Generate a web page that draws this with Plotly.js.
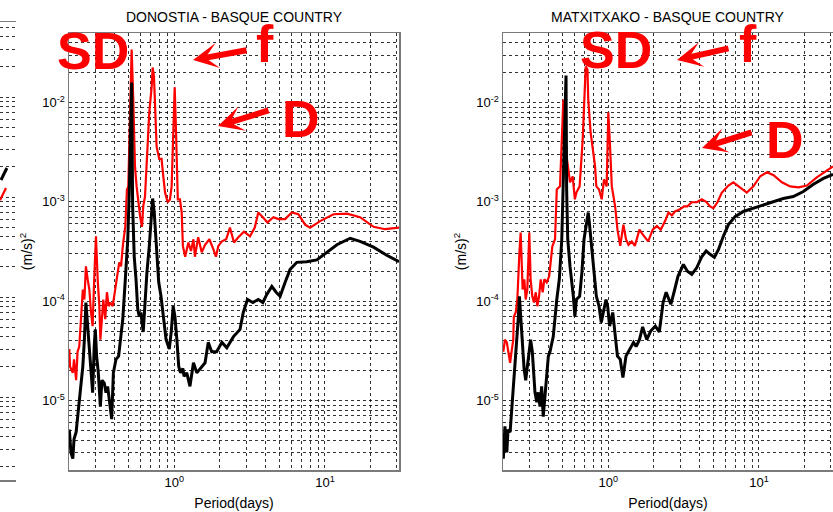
<!DOCTYPE html>
<html>
<head>
<meta charset="utf-8">
<script src="https://cdn.plot.ly/plotly-3.0.1.min.js"></script>
<style>html,body{margin:0;padding:0;background:#fff;}#chart{width:833px;height:512px;}</style>
</head>
<body>
<div id="chart"></div>
<script>
// ---------------- DATA (periods in days, PSD in (m/s)^2) ----------------
const panelTitles = ['DONOSTIA - BASQUE COUNTRY', 'MATXITXAKO - BASQUE COUNTRY'];
const xTitle = 'Period(days)';
const yTitle = '(m/s)<sup>2</sup>';

// DONOSTIA – red spectrum
const donostiaRedPeriod = [0.201,0.203,0.212,0.216,0.223,0.228,0.234,0.240,0.247,0.253,0.259,0.266,0.273,0.280,0.287,0.294,0.302,0.310,0.318,0.323,0.331,0.338,0.348,0.357,0.367,0.376,0.390,0.400,0.410,0.421,0.431,0.443,0.455,0.473,0.485,0.495,0.508,0.521,0.534,0.548,0.562,0.577,0.593,0.610,0.622,0.639,0.655,0.682,0.708,0.718,0.733,0.744,0.763,0.794,0.823,0.845,0.868,0.904,0.936,0.960,0.983,1.006,1.027,1.055,1.09,1.12,1.14,1.18,1.24,1.29,1.34,1.37,1.44,1.52,1.60,1.71,1.82,1.89,1.96,2.07,2.21,2.34,2.49,2.66,2.90,3.18,3.42,3.61,3.87,4.15,4.55,4.91,5.44,6.02,6.66,7.38,7.97,9.28,11.4,14.0,17.1,21.0,25.1,31];
const donostiaRedPSD = [3.3e-5,2.2e-5,1.9e-5,2.6e-5,1.6e-5,3.1e-5,3.5e-5,7.0e-5,1.31e-4,1.04e-4,2.24e-4,1.66e-4,1.31e-4,7.7e-5,5.6e-5,1.66e-4,4.5e-4,1.66e-4,8.9e-5,4.1e-5,7.7e-5,1.04e-4,6.6e-5,1.23e-4,8.9e-5,9.7e-5,8.9e-5,1.12e-4,1.55e-4,1.95e-4,2.46e-4,2.24e-4,3.56e-4,5.7e-4,1.33e-3,1.43e-3,9.1e-3,3.4e-2,1.07e-2,2.3e-3,1.43e-3,9.9e-4,7.1e-4,5.6e-4,9.0e-4,1.13e-3,2.3e-3,7.9e-3,1.45e-2,2.25e-2,1.83e-2,8.5e-3,3.6e-3,2.7e-3,2.7e-3,1.8e-3,1.24e-3,9.9e-4,1.06e-3,1.43e-3,5.0e-3,1.42e-2,5.0e-3,1.06e-3,1.06e-3,7.8e-4,3.6e-4,2.8e-4,3.9e-4,3.2e-4,4.2e-4,2.8e-4,4.4e-4,3.1e-4,3.7e-4,4.2e-4,3.3e-4,2.8e-4,3.6e-4,4.0e-4,4.2e-4,5.5e-4,3.9e-4,4.4e-4,5.0e-4,4.5e-4,5.5e-4,7.8e-4,7.0e-4,6.2e-4,7.0e-4,6.7e-4,6.7e-4,7.8e-4,7.5e-4,5.9e-4,5.5e-4,6.4e-4,7.5e-4,7.6e-4,7.0e-4,5.6e-4,5.3e-4,5.5e-4];

// DONOSTIA – black spectrum
const donostiaBlackPeriod = [0.201,0.206,0.212,0.216,0.223,0.228,0.234,0.240,0.247,0.253,0.259,0.266,0.273,0.280,0.287,0.294,0.299,0.305,0.313,0.323,0.331,0.343,0.352,0.361,0.370,0.384,0.394,0.410,0.427,0.438,0.455,0.473,0.491,0.503,0.521,0.529,0.542,0.557,0.572,0.586,0.600,0.622,0.639,0.658,0.682,0.700,0.718,0.736,0.756,0.788,0.816,0.845,0.882,0.926,0.954,0.983,1.01,1.04,1.07,1.10,1.14,1.16,1.21,1.27,1.34,1.41,1.52,1.60,1.68,1.77,1.91,2.07,2.23,2.47,2.73,2.87,3.06,3.32,3.61,3.87,4.11,4.44,4.74,5.04,5.44,5.87,6.5,7.57,8.83,10.3,12.0,14.7,17.1,21.0,25.7,31];
const donostiaBlackPSD = [5.1e-6,3.0e-6,2.6e-6,4.1e-6,4.8e-6,6.5e-6,1.03e-5,1.39e-5,2.2e-5,4.1e-5,9.7e-5,5.6e-5,3.1e-5,1.9e-5,1.2e-5,3.5e-5,5.2e-5,2.8e-5,1.9e-5,8.7e-6,1.6e-5,1.5e-5,1.2e-5,1.39e-5,1.03e-5,6.5e-6,1.9e-5,2.6e-5,2.8e-5,4.1e-5,6.6e-5,1.66e-4,4.2e-4,1.33e-3,1.59e-2,9.0e-4,2.8e-4,1.66e-4,8.3e-5,7.0e-5,7.7e-5,4.9e-5,1.04e-4,1.95e-4,3.56e-4,5.7e-4,1.08e-3,7.8e-4,4.5e-4,1.55e-4,1.12e-4,6.6e-5,4.1e-5,3.3e-5,4.9e-5,8.9e-5,7.0e-5,4.1e-5,2.2e-5,1.9e-5,2.1e-5,1.75e-5,1.9e-5,1.39e-5,2.4e-5,1.9e-5,2.2e-5,2.4e-5,3.85e-5,3.1e-5,3.1e-5,3.85e-5,3.4e-5,4.4e-5,5.2e-5,7.7e-5,1.04e-4,9.7e-5,1.04e-4,9.7e-5,1.17e-4,1.41e-4,1.23e-4,1.12e-4,1.55e-4,2.09e-4,2.46e-4,2.5e-4,2.6e-4,3.1e-4,3.7e-4,4.3e-4,4.0e-4,3.5e-4,2.9e-4,2.5e-4];

// MATXITXAKO – red spectrum
const matxitxakoRedPeriod = [0.201,0.206,0.212,0.216,0.223,0.228,0.234,0.236,0.243,0.249,0.253,0.257,0.262,0.266,0.270,0.277,0.283,0.290,0.299,0.305,0.313,0.321,0.330,0.338,0.347,0.356,0.367,0.376,0.390,0.405,0.414,0.425,0.443,0.455,0.478,0.491,0.503,0.529,0.557,0.580,0.600,0.614,0.645,0.676,0.690,0.708,0.727,0.736,0.763,0.788,0.816,0.833,0.868,0.904,0.936,0.975,1.0,1.027,1.055,1.11,1.15,1.20,1.26,1.31,1.36,1.43,1.50,1.61,1.69,1.84,1.97,2.10,2.23,2.38,2.51,2.64,2.77,2.99,3.18,3.35,3.58,3.87,4.17,4.46,4.74,4.98,5.30,5.67,6.27,6.76,7.5,8.3,9.18,10.2,11.3,12.5,14.2,16.1,18.3,20.8,24.2,28.2,31];
const matxitxakoRedPSD = [3.1e-5,4.1e-5,3.85e-5,3.1e-5,2.4e-5,3.1e-5,4.1e-5,7.0e-5,7.7e-5,1.04e-4,1.95e-4,3.1e-4,4.9e-4,1.95e-4,1.31e-4,1.66e-4,1.04e-4,1.31e-4,4.9e-4,1.66e-4,1.12e-4,9.7e-5,1.23e-4,8.9e-5,1.12e-4,1.66e-4,1.23e-4,1.66e-4,1.55e-4,1.78e-4,2.63e-4,3.56e-4,4.2e-4,1.33e-3,1.43e-3,4.2e-3,1.07e-2,2.86e-3,1.57e-3,1.8e-3,1.06e-3,1.24e-3,1.43e-3,4.2e-3,8.5e-3,2.3e-2,2.15e-2,1.07e-2,5.0e-3,3.4e-3,2.3e-3,1.43e-3,1.33e-3,1.06e-3,1.68e-3,1.43e-3,7.9e-3,3.6e-3,1.43e-3,9.0e-4,5.25e-4,3.6e-4,5.9e-4,4.2e-4,3.7e-4,4.0e-4,3.6e-4,5.25e-4,4.7e-4,4.0e-4,5.25e-4,5.7e-4,5.25e-4,6.4e-4,7.8e-4,7.3e-4,8.0e-4,8.4e-4,9.0e-4,9.0e-4,9.9e-4,9.9e-4,1.06e-3,1.0e-3,9.0e-4,8.6e-4,9.9e-4,1.24e-3,1.46e-3,1.57e-3,1.4e-3,1.24e-3,1.43e-3,1.81e-3,1.98e-3,1.85e-3,1.57e-3,1.43e-3,1.4e-3,1.46e-3,1.76e-3,2.07e-3,2.27e-3];

// MATXITXAKO – black spectrum
const matxitxakoBlackPeriod = [0.201,0.206,0.212,0.216,0.223,0.228,0.234,0.240,0.247,0.253,0.257,0.262,0.268,0.276,0.283,0.290,0.297,0.305,0.313,0.318,0.326,0.335,0.343,0.352,0.361,0.370,0.380,0.390,0.400,0.410,0.431,0.455,0.473,0.491,0.503,0.524,0.529,0.538,0.557,0.572,0.586,0.600,0.614,0.645,0.668,0.690,0.718,0.736,0.748,0.776,0.806,0.833,0.868,0.898,0.926,0.965,0.990,1.02,1.07,1.11,1.15,1.20,1.25,1.31,1.39,1.47,1.53,1.61,1.69,1.80,1.91,2.05,2.18,2.31,2.42,2.60,2.73,2.90,3.15,3.35,3.58,3.87,4.17,4.46,4.74,5.06,5.38,5.80,6.27,6.94,7.88,9.18,10.7,12.5,14.5,16.9,19.7,23.0,26.8,31];
const matxitxakoBlackPSD = [2.6e-6,5.5e-6,3.0e-6,5.1e-6,4.8e-6,7.6e-6,1.21e-5,1.9e-5,3.5e-5,7.0e-5,1.12e-4,7.0e-5,3.5e-5,2.1e-5,1.6e-5,2.2e-5,2.8e-5,4.1e-5,3.1e-5,1.9e-5,1.21e-5,9.6e-6,1.21e-5,8.7e-6,1.39e-5,6.9e-6,1.21e-5,1.9e-5,2.8e-5,3.1e-5,4.4e-5,1.04e-4,1.66e-4,4.2e-4,1.57e-3,1.87e-2,1.33e-3,4.2e-4,2.24e-4,1.66e-4,1.12e-4,7.0e-5,1.04e-4,1.12e-4,1.95e-4,4.2e-4,6.2e-4,7.8e-4,6.2e-4,3.6e-4,1.95e-4,1.12e-4,8.9e-5,6.1e-5,7.7e-5,1.04e-4,8.9e-5,5.6e-5,7.7e-5,4.4e-5,2.8e-5,2.6e-5,1.7e-5,2.8e-5,3.3e-5,3.85e-5,3.5e-5,4.1e-5,5.5e-5,4.1e-5,5.0e-5,5.6e-5,4.9e-5,9.7e-5,1.23e-4,9.3e-5,1.23e-4,1.78e-4,2.34e-4,2.0e-4,1.86e-4,2.18e-4,2.8e-4,3.2e-4,2.96e-4,2.77e-4,3.3e-4,4.5e-4,5.9e-4,7.1e-4,8.0e-4,8.6e-4,9.2e-4,1.0e-3,1.08e-3,1.13e-3,1.27e-3,1.5e-3,1.72e-3,1.89e-3];

// edge of a neighbouring (cropped) panel at the far left
const cutRedPeriod = [20.0, 21.9];
const cutRedPSD = [9.3e-4, 1.23e-3];
const cutBlackPeriod = [20.3, 22.2];
const cutBlackPSD = [1.48e-3, 1.95e-3];

// tick / grid positions and labels
const periodGridVals = [0.2,0.3,0.4,0.5,0.6,0.7,0.8,0.9,1,2,3,4,5,6,7,8,9,10,20,30];
const periodTickText = ['','','','','','','','','10<sup>0</sup>','','','','','','','','','10<sup>1</sup>','',''];
const psdGridVals = [2e-6,3e-6,4e-6,5e-6,6e-6,7e-6,8e-6,9e-6,1e-5,2e-5,3e-5,4e-5,5e-5,6e-5,7e-5,8e-5,9e-5,1e-4,2e-4,3e-4,4e-4,5e-4,6e-4,7e-4,8e-4,9e-4,1e-3,2e-3,3e-3,4e-3,5e-3,6e-3,7e-3,8e-3,9e-3,1e-2,2e-2,3e-2,4e-2,5e-2];
const psdTickText = ['','','','','','','','','10<sup>-5</sup>','','','','','','','','','10<sup>-4</sup>','','','','','','','','','10<sup>-3</sup>','','','','','','','','','10<sup>-2</sup>','','','',''];

// annotation labels
const bigLabels = ['SD', 'f', 'D'];

// ---------------- FIGURE ----------------
const W = 833, H = 512;
const RED = '#ff0000', BLACK = '#000000';
const FONT = 'Liberation Sans, Arial, Helvetica, sans-serif';
const px = v => v / W;          // paper x from pixel
const py = v => 1 - v / H;      // paper y from pixel

function line(x, y, color, width, xa, ya) {
  return {x: x, y: y, type: 'scatter', mode: 'lines', xaxis: xa, yaxis: ya,
          line: {color: color, width: width}, hoverinfo: 'skip', showlegend: false};
}

const traces = [
  line(donostiaRedPeriod, donostiaRedPSD, RED, 2.2, 'x', 'y'),
  line(donostiaBlackPeriod, donostiaBlackPSD, BLACK, 3, 'x', 'y'),
  line(matxitxakoRedPeriod, matxitxakoRedPSD, RED, 2.2, 'x2', 'y2'),
  line(matxitxakoBlackPeriod, matxitxakoBlackPSD, BLACK, 3, 'x2', 'y2'),
  line(cutRedPeriod, cutRedPSD, RED, 2.2, 'x3', 'y3'),
  line(cutBlackPeriod, cutBlackPSD, BLACK, 3, 'x3', 'y3')
];

const gridCommon = {showgrid: true, gridcolor: 'rgba(0,0,0,0.8)', gridwidth: 1, griddash: '3px,3px',
                    zeroline: false, showline: true, linecolor: '#7a7a7a', linewidth: 1.5, mirror: true,
                    ticks: '', fixedrange: true};

function xAxis(domain, anchor) {
  return Object.assign({}, gridCommon, {
    type: 'log', domain: domain, anchor: anchor,
    range: [Math.log10(0.2), Math.log10(31)],
    tickmode: 'array', tickvals: periodGridVals, ticktext: periodTickText,
    tickfont: {family: FONT, size: 13, color: '#000'},
    title: {text: xTitle, font: {family: FONT, size: 14, color: '#000'}, standoff: 9}
  });
}
function yAxis(domain, anchor) {
  return Object.assign({}, gridCommon, {
    type: 'log', domain: domain, anchor: anchor,
    range: [Math.log10(2e-6), Math.log10(5e-2)],
    tickmode: 'array', tickvals: psdGridVals, ticktext: psdTickText,
    tickfont: {family: FONT, size: 13, color: '#000'},
    title: {text: yTitle, font: {family: FONT, size: 14, color: '#000'}, standoff: 6}
  });
}

const yDom = [py(470), py(33)];
const layout = {
  width: W, height: H,
  margin: {l: 0, r: 0, t: 0, b: 0},
  paper_bgcolor: '#fff', plot_bgcolor: '#fff',
  showlegend: false,
  font: {family: FONT, color: '#000'},
  xaxis: xAxis([px(69), px(399)], 'y'),
  yaxis: yAxis(yDom, 'x'),
  xaxis2: xAxis([px(503), 1], 'y2'),
  yaxis2: yAxis(yDom, 'x2'),
  xaxis3: {type: 'log', domain: [0, px(16)], anchor: 'y3', range: [Math.log10(20), Math.log10(25.5)],
           showgrid: false, showline: true, mirror: true, linecolor: '#7a7a7a', linewidth: 1.5,
           ticks: '', showticklabels: false, zeroline: false, fixedrange: true},
  yaxis3: {type: 'log', domain: [py(480), py(22)], anchor: 'x3', range: [-5.83, -1.25],
           tickmode: 'array', tickvals: psdGridVals, showticklabels: false, ticks: '',
           showgrid: true, gridcolor: 'rgba(0,0,0,0.8)', gridwidth: 1, griddash: '3px,3px',
           showline: false, zeroline: false, fixedrange: true},
  annotations: []
};

// panel titles
[[234, panelTitles[0]], [668, panelTitles[1]]].forEach(([cx, t]) => {
  layout.annotations.push({xref: 'paper', yref: 'paper', x: px(cx), y: py(17), xanchor: 'center', yanchor: 'middle',
    text: t, showarrow: false, font: {family: FONT, size: 14, color: '#000'}});
});

// big red labels
const bigFont = {family: FONT, size: 52, color: RED};
[[93, 51, 0], [265, 44, 1], [301, 119, 2], [616, 50, 0], [748, 44, 1], [785, 140, 2]].forEach(([cx, cy, k]) => {
  layout.annotations.push({xref: 'paper', yref: 'paper', x: px(cx), y: py(cy), xanchor: 'center', yanchor: 'middle',
    text: '<b>' + bigLabels[k] + '</b>', showarrow: false, font: bigFont});
});

// red arrows (head position, tail offset in px)
[[193, 60, 55, -10], [218, 126, 52, -16], [677, 60, 53, -12], [702, 148, 51, -16]].forEach(([hx, hy, dx, dy]) => {
  layout.annotations.push({xref: 'paper', yref: 'paper', x: px(hx), y: py(hy), ax: dx, ay: dy,
    text: '', showarrow: true, arrowhead: 3, arrowsize: 0.7, arrowwidth: 6, arrowcolor: RED, standoff: 0});
});

Plotly.newPlot('chart', traces, layout, {staticPlot: true, displayModeBar: false});
</script>
</body>
</html>
